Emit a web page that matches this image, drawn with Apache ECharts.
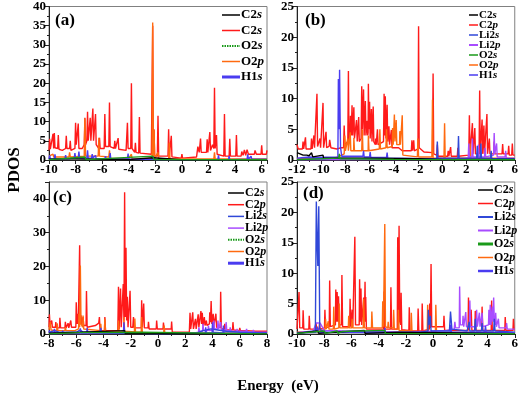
<!DOCTYPE html>
<html><head><meta charset="utf-8">
<script src="https://cdn.jsdelivr.net/npm/echarts@6/dist/echarts.min.js"></script>
<style>html,body{margin:0;padding:0;background:#fff}#c{width:521px;height:395px}</style>
</head><body><div id="c"></div>
<script>
// ---------- Panel (a) ----------
var A_C2p=[[-10,2.5],[-9.95,5.5],[-9.9,2.8],[-9.75,3],[-9.7,6.8],[-9.65,3],[-9.6,7],[-9.55,3.2],[-9.35,3],[-9.3,6.5],[-9.25,2.8],[-9,2.5],[-8.75,3],[-8.7,6.3],[-8.65,3],[-8.45,3],[-8.4,5],[-8.35,2.5],[-8.05,3],[-8,9.7],[-7.95,4],[-7.85,4],[-7.8,9.5],[-7.75,3],[-7.5,3],[-7.35,4],[-7.3,11],[-7.25,4],[-7.15,5],[-7.1,12.6],[-7.05,5],[-6.95,5],[-6.9,11],[-6.85,5],[-6.75,5],[-6.7,13.4],[-6.65,5],[-6.55,5],[-6.5,12],[-6.45,4],[-6.25,3],[-6.2,5.8],[-6.15,3],[-5.85,3],[-5.8,12],[-5.75,3.5],[-5.5,3.5],[-5.45,15],[-5.4,3.5],[-5.1,3],[-5.05,5],[-5,3],[-4.85,3],[-4.8,5.7],[-4.75,2.8],[-4.2,2.5],[-4.1,9.7],[-4.05,3],[-3.85,3],[-3.8,20],[-3.75,3],[-3.55,2],[-3.5,4.5],[-3.45,2],[-3.25,1.8],[-3.2,11.2],[-3.15,1.8],[-2.3,1.5],[-2.2,35],[-2.15,1.5],[-2.1,8],[-2.05,1],[-1.85,1],[-1.8,11.5],[-1.75,1],[-1.05,1],[-1,8],[-0.95,1],[-0.85,1],[-0.8,6.3],[-0.75,0.8],[-0.05,0.5],[0,1.5],[0.05,0.5],[1.1,0.8],[1.2,3.5],[1.3,2],[1.4,5.6],[1.45,2],[1.85,2],[1.9,5.4],[1.95,2],[2.05,2.5],[2.1,7.3],[2.15,2.5],[2.25,2.5],[2.3,4],[2.4,3],[2.45,18.8],[2.5,3],[2.55,3],[2.6,6.5],[2.65,1.5],[3.15,1],[3.2,12],[3.25,1],[3.55,1],[3.6,5.5],[3.65,1],[4.05,1],[4.1,6.5],[4.15,1],[4.45,1],[4.5,2.2],[4.6,1.2],[4.7,2.6],[4.8,1.2],[4.9,2.7],[5,1.5],[5.45,1.5],[5.5,2.5],[5.6,1.5],[5.95,1.5],[6,3.8],[6.05,1.5],[6.35,1.5],[6.4,2.5]];
var A_O2p=[[-10,1],[-9.7,1.5],[-9.65,0.8],[-8.5,0.8],[-8.45,2],[-8.4,0.8],[-7.35,1],[-7.3,10.8],[-7.25,1],[-6.3,1],[-6.25,5.8],[-6.2,1],[-5.5,0.8],[-5.45,2.5],[-5.4,0.5],[-4,0.4],[-3.8,1.5],[-3.75,0.3],[-2.25,0.5],[-2.2,35.8],[-2.15,1],[-2.1,7.8],[-2.05,0.5],[-1.8,2],[-1.75,0.3],[-1,0.3],[-0.95,4.5],[-0.9,0.3],[2.4,0.3],[2.45,2],[2.5,0.3],[6.4,0.3]];
var A_H1s=[[-10,0.2],[-9.95,1.2],[-9.9,0.3],[-9.6,0.3],[-9.55,1.5],[-9.5,0.3],[-8.8,0.3],[-8.75,1.3],[-8.7,0.3],[-8.1,0.5],[-8.05,1.8],[-8,0.5],[-7.8,0.5],[-7.75,2.2],[-7.7,0.5],[-7.15,0.5],[-7.1,2.5],[-7.05,0.5],[-6.8,0.5],[-6.75,1.5],[-6.7,0.5],[-6.5,1.2],[-6.45,0.3],[-5.8,0.3],[-5.75,1],[-5.7,0.3],[-5.45,0.3],[-5.4,1.8],[-5.35,0.3],[-4.1,0.3],[-4.05,1.7],[-4,0.2],[-2.2,0.2],[-2.15,1],[-2.1,0.1],[2.7,0.1],[2.75,1.2],[2.8,0.1],[3.5,0.1],[3.55,1],[3.6,0.1],[4.9,0.2],[4.95,1.5],[5,0.2],[5.2,1],[5.25,0.2],[6.4,0.2]];
var A_C2s=[[-10,0.2],[-9.9,0.5],[-9,0.3],[-8,0.3],[-6,0.2],[-4,0.1],[-2.2,0.6],[-2.1,0.1],[0,0.05],[6.4,0.1]];
var A_O2s=[[-10,0.1],[-7.3,0.8],[-7.2,0.1],[-2.2,1],[-2.1,0.1],[6.4,0.05]];
// ---------- Panel (b) ----------
var B_C2p=[[-12,2.5],[-11.9,1.8],[-11.55,1.8],[-11.5,3],[-11.45,1.8],[-11.35,2],[-11.3,3.7],[-11.25,1.8],[-10.85,1.8],[-10.8,3.5],[-10.75,1.8],[-10.65,2],[-10.6,4],[-10.55,2],[-10.4,2.2],[-10.35,10.8],[-10.3,2.2],[-10.15,2],[-10.1,3.5],[-10.05,2],[-9.9,2],[-9.85,9.3],[-9.8,2],[-9.65,2],[-9.6,4.6],[-9.55,2],[-9.35,2.2],[-9.3,3.3],[-9.2,2],[-8.7,1.8],[-8.35,2],[-8.15,2],[-8.1,5.6],[-8.05,2.5],[-7.8,3],[-7.75,14.5],[-7.7,3],[-7.62,4],[-7.58,7.2],[-7.52,4],[-7.48,4],[-7.45,8.9],[-7.4,4],[-7.33,4],[-7.3,8.6],[-7.25,3.5],[-7.12,3.5],[-7.08,6.5],[-7.02,3],[-6.93,3],[-6.9,7],[-6.85,3],[-6.7,3.5],[-6.65,12],[-6.6,5],[-6.53,5],[-6.5,11.5],[-6.45,4],[-6.38,4],[-6.35,9.6],[-6.3,4],[-6.22,4],[-6.2,6.4],[-6.15,4],[-6.12,4.5],[-6.1,12.4],[-6.05,5],[-6.02,5],[-6,9.5],[-5.95,3.5],[-5.88,3.5],[-5.85,8.3],[-5.8,3],[-5.73,3],[-5.7,8.7],[-5.65,3],[-5.52,2.5],[-5.5,3.5],[-5.45,2.5],[-5.38,2.5],[-5.35,5],[-5.3,2.5],[-4.85,3],[-4.8,10.8],[-4.75,4],[-4.72,4],[-4.7,10.4],[-4.65,3.5],[-4.58,3.5],[-4.55,9],[-4.5,3],[-4.43,3],[-4.4,5.5],[-4.35,2.5],[-4.23,2.5],[-4.2,4.9],[-4.15,2],[-3.6,2],[-3.3,1.5],[-2.55,1.5],[-2.5,3.2],[-2.45,1.5],[-2.4,1.5],[-2.35,3.2],[-2.3,1.5],[-2,1.8],[-1.95,21.8],[-1.9,2],[-1.5,1.3],[-0.8,1.2],[-0.75,14.1],[-0.7,1],[-0.45,0.8],[-0.4,2.5],[-0.35,0.6],[0.45,0.6],[0.5,1.5],[0.55,0.6],[0.65,0.6],[0.7,2.1],[0.75,0.6],[1.25,0.6],[1.3,2],[1.35,0.6],[2.2,0.8],[2.25,7.3],[2.3,1],[2.45,1],[2.5,6],[2.55,1],[2.65,1],[2.7,5.2],[2.75,1],[3.05,1],[3.1,11.3],[3.15,1],[3.25,1],[3.3,6.6],[3.35,1],[3.4,1],[3.45,5.6],[3.5,1],[3.65,1],[3.7,7.5],[3.75,1],[3.85,1],[3.9,3.5],[3.95,1],[4.25,1],[4.3,3],[4.35,1],[4.95,1],[5,2.6],[5.05,1],[5.45,1],[5.5,2.3],[5.55,0.8],[5.75,0.8],[5.8,2.7],[5.85,0.8],[6,0.8]];
var B_O2p=[[-12,0.2],[-9,0.3],[-8.6,0.5],[-8.1,1],[-8.05,4],[-8,1.5],[-7.85,1.5],[-7.8,3.5],[-7.75,1.5],[-7.62,1.5],[-7.6,4.5],[-7.55,1.5],[-7.32,1.5],[-7.3,3.6],[-7.25,1.5],[-6.65,1.5],[-6.6,5],[-6.55,1.5],[-6.12,1.5],[-6.1,4],[-6.05,1.5],[-5.2,1.8],[-5.15,5],[-5.1,1.8],[-4.65,2],[-4.6,5],[-4.55,2],[-4.12,2.2],[-4.1,5.2],[-4.05,2.5],[-3.98,2.5],[-3.95,7.4],[-3.9,3],[-3.83,3],[-3.8,6.5],[-3.75,2.5],[-3.52,2.5],[-3.5,4.7],[-3.45,2.5],[-3.33,2.5],[-3.3,7.3],[-3.25,0.8],[-2.05,0.5],[-2,3.5],[-1.95,0.5],[-0.85,0.5],[-0.8,9.8],[-0.75,0.3],[0.15,0.3],[0.2,6],[0.25,0.3],[2.25,0.3],[2.3,2.7],[2.35,0.3],[6,0.3]];
var B_Li2s=[[-12,0.1],[-8.6,0.3],[-0.45,0.2],[-0.4,3],[-0.35,0.3],[1.3,0.3],[1.35,3.9],[1.4,0.3],[2.85,0.3],[2.9,2.3],[2.95,0.3],[3.15,0.3],[3.2,2.7],[3.25,0.3],[4,0.3],[4.05,1.5],[4.1,0.2],[6,0.2]];
var B_Li2p=[[-12,0.05],[1.5,0.1],[2.15,0.3],[2.2,2.7],[2.25,0.5],[2.45,0.5],[2.5,3.5],[2.55,0.5],[2.95,0.5],[3,2.5],[3.05,0.5],[3.5,0.5],[3.55,2],[3.6,0.5],[4.25,0.8],[4.3,4.4],[4.35,1],[4.45,1],[4.5,2.7],[4.55,0.5],[5.2,0.5],[5.25,1.5],[5.3,0.3],[6,0.3]];
var B_H1s=[[-12,0.3],[-11,0.5],[-10.5,0.4],[-8.62,0.5],[-8.58,13.2],[-8.52,5],[-8.48,14.7],[-8.44,7.5],[-8.4,2],[-8.3,0.6],[-7,0.6],[-6.55,0.6],[-6.5,1.5],[-6.45,0.5],[-6,0.5],[-5.95,1.3],[-5.9,0.4],[-4.6,0.4],[-4.55,1.2],[-4.5,0.3],[-2,0.2],[6,0.1]];
var B_C2s=[[-12,1.2],[-11.5,0.8],[-11.2,0.8],[-11,0.7],[-10.8,1.2],[-10.7,0.5],[-9.85,0.8],[-9.8,0.3],[-8.5,0.3],[-6,0.3],[-2,0.2],[0,0.1],[6,0.1]];
var B_O2s=[[-12,0.05],[-8.55,0.3],[-8.5,1],[-8.45,0.2],[-4,0.1],[6,0.05]];
// ---------- Panel (c) ----------
var C_C2p=[[-8,2],[-7.97,5.8],[-7.92,2.5],[-7.83,2.5],[-7.8,4],[-7.75,2],[-7.53,2],[-7.5,3.5],[-7.45,1.8],[-7.23,1.8],[-7.2,4.8],[-7.15,1.8],[-6.83,1.8],[-6.8,3.6],[-6.75,1.8],[-6.63,1.8],[-6.6,3.2],[-6.55,1.8],[-6.43,2],[-6.4,4],[-6.35,2],[-6.03,2],[-6,9.4],[-5.95,3],[-5.9,6],[-5.85,3],[-5.78,3],[-5.75,26.3],[-5.7,4],[-5.65,5.5],[-5.6,3],[-5.53,3],[-5.5,5],[-5.45,2.5],[-5.28,2.5],[-5.25,12.7],[-5.2,2],[-4.6,2.5],[-4.35,3.2],[-4.3,5],[-4.25,1],[-3.93,1],[-3.9,5],[-3.85,1],[-2.95,1],[-2.9,14],[-2.85,1.5],[-2.78,1.5],[-2.75,13.5],[-2.7,2],[-2.6,2.5],[-2.55,14.8],[-2.5,4],[-2.47,4],[-2.45,42],[-2.4,5],[-2.37,5],[-2.35,25.5],[-2.3,4],[-2.27,4],[-2.25,11],[-2.2,2],[-2.08,2],[-2.05,12.8],[-2,2],[-1.85,2],[-1.8,5],[-1.75,1.8],[-1.23,1.8],[-1.2,10],[-1.15,2],[-1.08,2],[-1.05,9],[-1,1.8],[-0.73,1.8],[-0.7,3.6],[-0.65,1.5],[-0.13,1.5],[-0.1,4],[-0.05,1.5],[0.37,1.5],[0.4,3.4],[0.45,1.5],[0.97,1.5],[1,3.7],[1.05,0.5],[2.3,0.5],[2.35,6.3],[2.4,1.5],[2.52,1.5],[2.55,6.4],[2.6,1.5],[2.72,1.5],[2.75,4.5],[2.8,1.5],[2.92,1.8],[2.95,5.8],[3,2],[3.12,2],[3.15,6.8],[3.2,3],[3.22,3],[3.25,6.3],[3.3,2.5],[3.37,2.5],[3.4,5],[3.45,2.5],[3.52,2.5],[3.55,4],[3.6,2.5],[3.77,3],[3.8,6.4],[3.85,3.5],[3.87,3.5],[3.9,9.8],[3.95,3],[4.02,3],[4.05,6],[4.1,2.5],[4.22,2.5],[4.25,6],[4.3,2],[4.57,2],[4.6,12.5],[4.65,1.5],[4.87,1.5],[4.9,3],[4.95,1.2],[5.47,1.2],[5.5,3.5],[5.55,1.2],[5.97,1],[6,1.8],[6.05,1],[6.47,1],[6.5,1.5],[6.55,0.8],[7.17,0.8],[7.2,1.2],[7.25,0.8],[7.77,0.8],[7.8,1.3],[7.85,0.8],[8,0.8]];
var C_O2p=[[-8,1.2],[-7.92,1.2],[-7.9,3.5],[-7.85,1.2],[-7.43,1],[-7.4,3.2],[-7.35,1],[-6.83,1],[-6.8,2],[-6.75,1],[-6.1,1],[-5.83,1.5],[-5.8,6],[-5.75,2],[-5.72,2],[-5.7,20.3],[-5.65,3],[-5.53,2],[-5.5,5.5],[-5.45,1.5],[-4.23,1],[-4.2,3],[-4.15,0.8],[-3.93,0.8],[-3.9,4.5],[-3.85,0.6],[-2.93,0.6],[-2.9,4],[-2.85,0.6],[-2.53,0.6],[-2.5,5],[-2.45,0.8],[-1.73,0.6],[-1.7,4.6],[-1.65,0.5],[-1.23,0.5],[-1.2,5],[-1.15,0.4],[0.42,0.3],[0.45,2.5],[0.5,0.3],[2,0.2],[8,0.2]];
var C_Li2p=[[-8,0.1],[2.5,0.2],[2.97,0.5],[3,2],[3.05,0.8],[3.27,0.8],[3.3,3],[3.35,1],[3.67,1],[3.7,2.5],[3.75,1],[4.07,1.2],[4.1,4],[4.15,1.5],[4.37,1.5],[4.4,4],[4.45,1.5],[4.57,1.5],[4.6,3.5],[4.65,1.2],[4.97,1.2],[5,3.5],[5.05,1],[5.27,1],[5.3,2],[5.35,0.8],[5.77,0.8],[5.8,1.5],[5.85,0.8],[6.47,0.8],[6.5,1.5],[6.55,0.6],[6.97,0.6],[7,1.2],[7.05,0.5],[8,0.5]];
var C_H1s=[[-8,0.3],[-7.97,1],[-7.9,0.3],[-7.63,0.3],[-7.6,1.5],[-7.55,0.3],[-7.03,0.3],[-7,1],[-6.95,0.3],[-5.73,0.3],[-5.7,1.7],[-5.65,0.3],[-5.23,0.3],[-5.2,1.8],[-5.15,0.3],[-4.23,0.3],[-4.2,1.8],[-4.15,0.3],[-2.53,0.3],[-2.5,3.5],[-2.45,0.3],[0,0.1],[3.47,0.3],[3.5,2],[3.55,0.3],[3.97,0.3],[4,3.5],[4.05,0.5],[4.77,0.3],[4.8,2.5],[4.85,0.3],[8,0.2]];
var C_Li2s=[[-8,0.5],[-7.6,1],[-7.2,0.5],[-6,0.5],[-5.7,1.2],[-5.5,0.5],[-4.5,0.5],[-4.2,1],[-4,0.3],[0,0.1],[2.8,0.2],[3.3,1],[3.9,1.5],[4.4,1.2],[5,0.8],[6,0.5],[8,0.3]];
var C_C2s=[[-8,0.2],[-5.7,0.5],[-5.6,0.1],[-2.45,1],[-2.4,0.1],[0,0.1],[8,0.05]];
var C_O2s=[[-8,0.05],[-5.75,0.4],[-5.7,0.05],[-1.2,0.5],[-1.15,0.05],[8,0.05]];
// ---------- Panel (d) ----------
var D_C2p=[[-10,0.8],[-9.88,1],[-9.85,6.9],[-9.8,1],[-9.58,1],[-9.55,3.9],[-9.5,0.8],[-9.13,0.8],[-9.1,3],[-9.05,0.8],[-8.63,0.8],[-8.6,1.8],[-8.55,0.8],[-8.38,0.8],[-8.35,1.7],[-8.3,0.8],[-7.98,1],[-7.95,4],[-7.9,1],[-7.63,1.2],[-7.6,8.8],[-7.55,1.2],[-7.18,1.5],[-7.15,7.3],[-7.1,2],[-7.07,2],[-7.05,6.9],[-7,2],[-6.98,2],[-6.95,6.2],[-6.9,1.5],[-6.73,1.5],[-6.7,9.7],[-6.65,1.2],[-6.13,1.2],[-6.1,5.8],[-6.05,1.2],[-5.98,1.2],[-5.95,4],[-5.9,1.2],[-5.78,1.2],[-5.75,16],[-5.7,1.5],[-5.43,1.5],[-5.4,9],[-5.35,2],[-5.32,2],[-5.3,7.5],[-5.25,1.5],[-5.13,1.5],[-5.1,6],[-5.05,2],[-5.03,2],[-5,8.6],[-4.97,2],[-4.95,6.1],[-4.9,0.8],[-3.63,0.8],[-3.6,7],[-3.55,0.8],[-3.13,0.8],[-3.1,7.7],[-3.05,0.8],[-2.63,0.8],[-2.6,15.9],[-2.55,2],[-2.52,2],[-2.5,17.8],[-2.45,2],[-2.38,1.5],[-2.35,6.8],[-2.3,0.7],[-1.78,0.6],[-1.75,4.4],[-1.7,0.5],[-1.13,0.5],[-1.1,4.2],[-1.05,0.5],[-0.83,0.5],[-0.8,5],[-0.75,0.5],[-0.28,0.8],[-0.25,5],[-0.2,1],[-0.18,1],[-0.15,11.5],[-0.1,1.2],[0.77,1.2],[0.8,3],[0.85,0.6],[2.57,0.6],[2.6,6],[2.65,0.6],[2.77,0.6],[2.8,4],[2.85,0.6],[3.07,0.6],[3.1,3.8],[3.15,0.6],[3.57,0.6],[3.6,4.5],[3.65,0.6],[4.27,0.6],[4.3,5.5],[4.35,0.6],[5.27,0.6],[5.3,2.8],[5.35,0.6],[5.87,0.6],[5.9,2.5],[5.95,0.6],[6,0.6]];
var D_O2p=[[-10,0.3],[-8.5,0.4],[-7.93,0.8],[-7.9,2.5],[-7.85,0.8],[-7.73,0.8],[-7.7,2.1],[-7.65,0.8],[-7.33,0.8],[-7.3,4.5],[-7.25,0.8],[-6.93,1],[-6.9,5],[-6.85,1],[-6.23,1],[-6.2,3],[-6.15,1],[-5.98,1],[-5.95,2.5],[-5.9,1],[-5.13,1],[-5.1,5.8],[-5.05,1],[-4.53,1],[-4.5,3.7],[-4.45,1],[-3.73,1],[-3.7,5.4],[-3.65,1.2],[-3.58,1.2],[-3.55,18.1],[-3.5,1.2],[-3.33,1],[-3.3,2],[-3.25,1],[-2.93,1],[-2.9,4],[-2.85,0.8],[-2.58,0.8],[-2.55,4],[-2.5,0.6],[-1.63,0.5],[-1.6,3.5],[-1.55,0.4],[-0.43,0.4],[-0.4,4.8],[-0.35,0.4],[0.17,0.3],[0.2,4.8],[0.25,0.3],[6,0.2]];
var D_Li2s=[[-10,0.1],[-8.65,0.5],[-8.58,21.8],[-8.52,15],[-8.47,11.2],[-8.4,21],[-8.33,0.8],[-8,0.3],[-1,0.2],[-0.38,0.5],[-0.35,4],[-0.3,1.5],[-0.22,1.5],[-0.2,3],[-0.15,0.5],[1.2,0.5],[1.28,3.7],[1.33,3.6],[1.38,0.8],[2.5,0.5],[2.65,2],[2.7,0.5],[3.05,0.5],[3.1,2.5],[3.15,0.5],[3.55,0.5],[3.6,1.8],[3.65,0.5],[4.45,0.5],[4.5,2.5],[4.55,0.5],[6,0.3]];
var D_Li2p=[[-10,0.2],[-8.8,0.5],[-8.6,1.8],[-8.3,1.8],[-8,0.6],[-2,0.3],[1,0.6],[1.55,0.8],[1.6,2],[1.65,1],[1.92,1],[1.95,7.8],[2,1.5],[2.17,1.5],[2.2,3],[2.25,1.2],[2.37,1.2],[2.4,3.6],[2.45,1.2],[2.67,1.2],[2.7,5.5],[2.75,1.2],[3.17,1.2],[3.2,4],[3.25,1.2],[3.37,1.2],[3.4,3.5],[3.45,1.2],[3.57,1.2],[3.6,3.5],[3.65,1.2],[4.07,1.5],[4.1,4],[4.15,1.5],[4.17,1.5],[4.2,4.8],[4.25,1.5],[4.32,1.5],[4.35,4.5],[4.4,2],[4.42,2],[4.45,6],[4.5,2],[4.57,1.5],[4.6,3.5],[4.65,1.2],[4.77,1.2],[4.8,2.5],[4.85,1],[5.37,1],[5.4,1.8],[5.45,0.8],[6,0.8]];
var D_H1s=[[-10,0.2],[-8.6,0.3],[-8.5,1.2],[-8.4,0.3],[-3.6,0.3],[-3.55,1],[-3.5,0.2],[1.25,0.3],[1.3,1.5],[1.35,0.3],[3.8,0.3],[3.85,1.3],[3.9,0.3],[6,0.2]];
var D_C2s=[[-10,0.1],[-8.5,0.5],[-8.4,0.1],[-5.05,0.6],[-5,0.1],[-2.5,0.3],[-2.45,0.1],[6,0.05]];
var D_O2s=[[-10,0.1],[-8,0.5],[-7.9,0.1],[-7.05,0.5],[-7,0.1],[-6.7,0.4],[-6.65,0.1],[-3.55,0.6],[-3.5,0.1],[6,0.05]];

// axis ranges and tick steps
var xRanges=[[-10,6.4],[-12,6],[-8,8],[-10,6]];
var yRanges=[[0,40,5],[0,25,5],[0,45,10],[0,25,5]];
var panelLabels=['(a)','(b)','(c)','(d)'];
var legendNames=[
  ['C2s','C2s','O2s','O2p','H1s'],
  ['C2s','C2p','Li2s','Li2p','O2s','O2p','H1s'],
  ['C2s','C2p','Li2s','Li2p','O2s','O2p','H1s'],
  ['C2s','C2p','Li2s','Li2p','O2s','O2p','H1s']
];
var xTitle='Energy  (eV)', yTitle='PDOS';

// styles
var COL={C2s:'#000000',C2p:'#ff1a1a',Li2s:'#3048d8',Li2p:'#a84cff',O2s:'#1a9a1a',O2p:'#ff6a10',H1s:'#4a3cf0'};
var FONT='Liberation Serif';
var grids=[{left:49,top:6,width:218,height:154},{left:297,top:6,width:218,height:154},{left:49,top:182,width:218,height:152},{left:297,top:182,width:218,height:152}];

var panelData=[
  [['C2p',A_C2p],['O2p',A_O2p],['H1s',A_H1s],['C2s',A_C2s],['O2s',A_O2s]],
  [['C2p',B_C2p],['O2p',B_O2p],['Li2p',B_Li2p],['Li2s',B_Li2s],['H1s',B_H1s],['C2s',B_C2s],['O2s',B_O2s]],
  [['C2p',C_C2p],['O2p',C_O2p],['Li2p',C_Li2p],['Li2s',C_Li2s],['H1s',C_H1s],['C2s',C_C2s],['O2s',C_O2s]],
  [['C2p',D_C2p],['O2p',D_O2p],['Li2p',D_Li2p],['Li2s',D_Li2s],['H1s',D_H1s],['C2s',D_C2s],['O2s',D_O2s]]
];

var labelStyle={color:'#000',fontFamily:FONT,fontWeight:'bold',fontSize:13};
var xAxes=[],yAxes=[],series=[],graphics=[];
grids.forEach(function(g,i){
  g.show=true; g.borderColor='#808080'; g.borderWidth=1; g.backgroundColor='transparent';
  xAxes.push({gridIndex:i,type:'value',min:xRanges[i][0],max:xRanges[i][1],interval:2,
    axisLine:{onZero:false,lineStyle:{color:'#222',width:1}},
    axisTick:{length:4,lineStyle:{color:'#222'}},
    minorTick:{show:true,splitNumber:2,length:2,lineStyle:{color:'#222'}},
    splitLine:{show:false},
    axisLabel:Object.assign({margin:3,showMaxLabel:i!==0},labelStyle)});
  yAxes.push({gridIndex:i,type:'value',min:yRanges[i][0],max:yRanges[i][1],interval:yRanges[i][2],
    axisLine:{show:true,onZero:false,lineStyle:{color:'#222',width:1}},
    axisTick:{show:true,length:4,lineStyle:{color:'#222'}},
    minorTick:{show:true,splitNumber:2,length:2,lineStyle:{color:'#222'}},
    splitLine:{show:false},
    axisLabel:Object.assign({margin:3,showMaxLabel:i!==2},labelStyle)});
  panelData[i].forEach(function(s){
    series.push({type:'line',name:s[0],xAxisIndex:i,yAxisIndex:i,data:s[1],showSymbol:false,symbol:'none',
      lineStyle:{color:COL[s[0]],width:1.4},itemStyle:{color:COL[s[0]]},silent:true,clip:true});
  });
});

// panel labels
var labelPos=[[55,12],[305,12],[53,189],[303,185]];
panelLabels.forEach(function(t,i){
  graphics.push({type:'text',left:labelPos[i][0],top:labelPos[i][1],
    style:{text:t,fill:'#000',font:'bold 17px "'+FONT+'"'}});
});

// legends
var legCfg=[
  {x1:222,x2:240,y0:15,dy:15.5,fs:13,lw:[1.5,1.5,2,1.5,3]},
  {x1:469,x2:478,y0:15,dy:10,fs:11,lw:[1.5,1.5,1.5,2,1.5,1.5,1.5]},
  {x1:228,x2:244,y0:193,dy:11.7,fs:12,lw:[1.5,1.5,1.5,1.5,2,1.5,3]},
  {x1:478,x2:493,y0:190,dy:13.5,fs:12,lw:[1.5,1.5,2,2,3,1.5,2.5]}
];
var legColors=[
  ['C2s','C2p','O2s','O2p','H1s'],
  ['C2s','C2p','Li2s','Li2p','O2s','O2p','H1s'],
  ['C2s','C2p','Li2s','Li2p','O2s','O2p','H1s'],
  ['C2s','C2p','Li2s','Li2p','O2s','O2p','H1s']
];
legendNames.forEach(function(names,p){
  var c=legCfg[p];
  names.forEach(function(n,k){
    var y=c.y0+k*c.dy;
    var key=legColors[p][k];
    var dotted=(key==='O2s'&&(p===0||p===2));
    graphics.push({type:'line',shape:{x1:c.x1,y1:y,x2:c.x2,y2:y},
      style:{stroke:COL[key],lineWidth:c.lw[k],lineDash:dotted?[1.5,1]:null}});
    graphics.push({type:'text',x:c.x2+1,y:y,
      style:{text:n.slice(0,-1)+'{i|'+n.slice(-1)+'}',fill:'#000',verticalAlign:'middle',
        font:'bold '+c.fs+'px "'+FONT+'"',
        rich:{i:{fontStyle:'italic',fontWeight:'bold',fontFamily:FONT,fontSize:c.fs,fill:'#000'}}}});
  });
});

// axis titles
graphics.push({type:'text',x:278,y:386,style:{text:xTitle,fill:'#000',align:'center',verticalAlign:'middle',font:'bold 15px "'+FONT+'"'}});
graphics.push({type:'text',x:15,y:170,rotation:Math.PI/2,style:{text:yTitle,fill:'#000',align:'center',verticalAlign:'middle',font:'bold 17px "'+FONT+'"'}});

var chart=echarts.init(document.getElementById('c'),null,{renderer:'canvas'});
chart.setOption({animation:false,backgroundColor:'#fff',grid:grids,xAxis:xAxes,yAxis:yAxes,series:series,graphic:graphics});
</script></body></html>
